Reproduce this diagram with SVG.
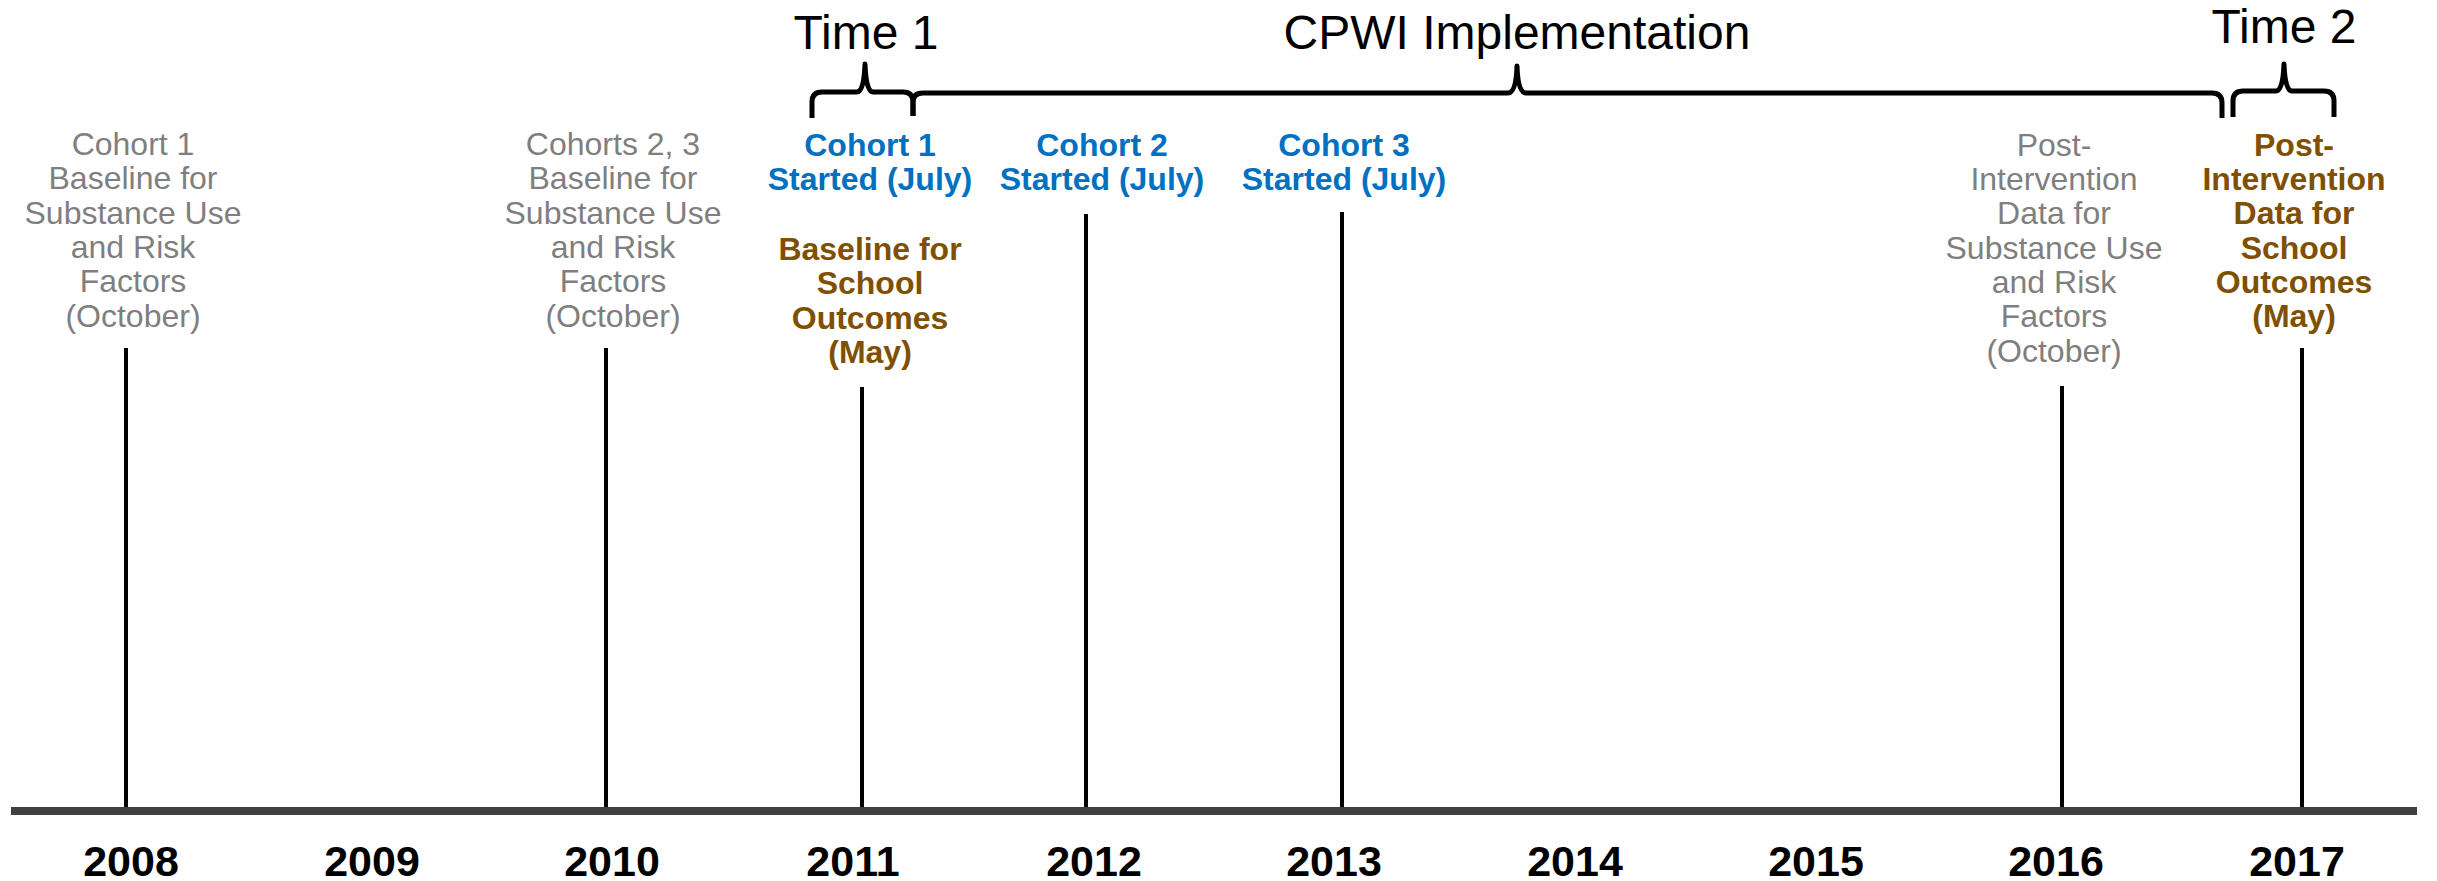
<svg xmlns="http://www.w3.org/2000/svg" width="2437" height="881" viewBox="0 0 2437 881">
<style>
text{font-family:"Liberation Sans",Arial,sans-serif;text-anchor:middle}
.g{font-size:32px;fill:#7f7f7f}
.b{font-size:32px;font-weight:bold;fill:#0070c0}
.o{font-size:32px;font-weight:bold;fill:#7f5000}
.t{font-size:48px;fill:#000}
.y{font-size:43px;font-weight:bold;fill:#000}
.tick{stroke:#000;stroke-width:4}
.brace{fill:none;stroke:#000;stroke-width:5;stroke-linejoin:round}
</style>
<rect width="2437" height="881" fill="#fff"/>
<g id="connectors">
<line class="tick" x1="126" y1="348" x2="126" y2="811"/>
<line class="tick" x1="606" y1="348" x2="606" y2="811"/>
<line class="tick" x1="862" y1="387" x2="862" y2="811"/>
<line class="tick" x1="1086" y1="214" x2="1086" y2="811"/>
<line class="tick" x1="1342" y1="212" x2="1342" y2="811"/>
<line class="tick" x1="2062" y1="386" x2="2062" y2="811"/>
<line class="tick" x1="2302" y1="348" x2="2302" y2="811"/>
</g>
<g id="axis">
<rect x="11" y="807" width="2406" height="8" fill="#404040"/>
</g>
<g id="brace-time1">
<path class="brace" d="M812 118 L812 102 Q812 92 822 92 L857 92 Q864 92 865 64 Q866 92 873 92 L903 92 Q913 92 913 102 L913 116"/>
<text class="t" x="866" y="49">Time 1</text>
</g>
<g id="brace-cpwi">
<path class="brace" d="M913 116 L913 102 Q913 93 923 93 L1508 93 Q1516 93 1517 66 Q1518 93 1526 93 L2212 93 Q2222 93 2222 103 L2222 118"/>
<text class="t" x="1517" y="49">CPWI Implementation</text>
</g>
<g id="brace-time2">
<path class="brace" d="M2233 117 L2233 101 Q2233 91 2243 91 L2276 91 Q2283 91 2284 64 Q2285 91 2292 91 L2324 91 Q2334 91 2334 101 L2334 117"/>
<text class="t" x="2284" y="43">Time 2</text>
</g>
<g id="node-2008-cohort1-baseline">
<text class="g" x="133" y="155">Cohort 1</text>
<text class="g" x="133" y="189">Baseline for</text>
<text class="g" x="133" y="224">Substance Use</text>
<text class="g" x="133" y="258">and Risk</text>
<text class="g" x="133" y="292">Factors</text>
<text class="g" x="133" y="327">(October)</text>
</g>
<g id="node-2010-cohorts23-baseline">
<text class="g" x="613" y="155">Cohorts 2, 3</text>
<text class="g" x="613" y="189">Baseline for</text>
<text class="g" x="613" y="224">Substance Use</text>
<text class="g" x="613" y="258">and Risk</text>
<text class="g" x="613" y="292">Factors</text>
<text class="g" x="613" y="327">(October)</text>
</g>
<g id="node-cohort1-started">
<text class="b" x="870" y="156">Cohort 1</text>
<text class="b" x="870" y="190">Started (July)</text>
</g>
<g id="node-2011-school-baseline">
<text class="o" x="870" y="260">Baseline for</text>
<text class="o" x="870" y="294">School</text>
<text class="o" x="870" y="329">Outcomes</text>
<text class="o" x="870" y="363">(May)</text>
</g>
<g id="node-cohort2-started">
<text class="b" x="1102" y="156">Cohort 2</text>
<text class="b" x="1102" y="190">Started (July)</text>
</g>
<g id="node-cohort3-started">
<text class="b" x="1344" y="156">Cohort 3</text>
<text class="b" x="1344" y="190">Started (July)</text>
</g>
<g id="node-2016-post-substance">
<text class="g" x="2054" y="156">Post-</text>
<text class="g" x="2054" y="190">Intervention</text>
<text class="g" x="2054" y="224">Data for</text>
<text class="g" x="2054" y="259">Substance Use</text>
<text class="g" x="2054" y="293">and Risk</text>
<text class="g" x="2054" y="327">Factors</text>
<text class="g" x="2054" y="362">(October)</text>
</g>
<g id="node-2017-post-school">
<text class="o" x="2294" y="156">Post-</text>
<text class="o" x="2294" y="190">Intervention</text>
<text class="o" x="2294" y="224">Data for</text>
<text class="o" x="2294" y="259">School</text>
<text class="o" x="2294" y="293">Outcomes</text>
<text class="o" x="2294" y="327">(May)</text>
</g>
<g id="years">
<text class="y" x="131" y="876">2008</text>
<text class="y" x="372" y="876">2009</text>
<text class="y" x="612" y="876">2010</text>
<text class="y" x="853" y="876">2011</text>
<text class="y" x="1094" y="876">2012</text>
<text class="y" x="1334" y="876">2013</text>
<text class="y" x="1575" y="876">2014</text>
<text class="y" x="1816" y="876">2015</text>
<text class="y" x="2056" y="876">2016</text>
<text class="y" x="2297" y="876">2017</text>
</g>
</svg>
